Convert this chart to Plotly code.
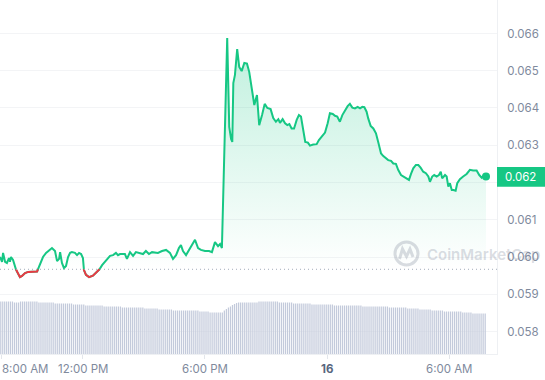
import plotly.graph_objects as go

# ---------------- data ----------------
# hours after 8:00 AM (day 15)
hours = [
    -0.06, 0.04, 0.09, 0.19, 0.28, 0.38, 0.43, 0.48, 0.58, 0.68,
    0.78, 0.92, 1.02, 1.17, 1.32, 1.51, 1.66, 1.76, 1.90, 2.05,
    2.20, 2.39, 2.49, 2.64, 2.74, 2.84, 2.89, 2.98, 3.08, 3.18,
    3.28, 3.38, 3.47, 3.62, 3.72, 3.82, 3.92, 4.01, 4.06, 4.16,
    4.31, 4.50, 4.65, 4.80, 4.95, 5.19, 5.34, 5.49, 5.63, 5.73,
    5.83, 6.07, 6.17, 6.32, 6.47, 6.61, 6.81, 6.96, 7.10, 7.25,
    7.40, 7.55, 7.69, 7.89, 8.09, 8.28, 8.43, 8.58, 8.72, 8.82,
    8.92, 9.07, 9.21, 9.36, 9.51, 9.66, 9.80, 10.00, 10.20, 10.34,
    10.49, 10.64, 10.74, 10.83, 10.93, 11.09, 11.19, 11.28, 11.34, 11.39,
    11.47, 11.58, 11.68, 11.80, 11.93, 12.06, 12.17, 12.32, 12.42, 12.55,
    12.66, 12.80, 12.93, 13.06, 13.22, 13.35, 13.48, 13.60, 13.68, 13.81,
    13.93, 14.04, 14.14, 14.25, 14.37, 14.50, 14.61, 14.71, 14.82, 14.92,
    15.05, 15.15, 15.31, 15.48, 15.59, 15.73, 15.89, 16.02, 16.13, 16.27,
    16.38, 16.49, 16.62, 16.74, 16.87, 17.00, 17.11, 17.23, 17.36, 17.49,
    17.61, 17.72, 17.82, 17.93, 18.01, 18.13, 18.26, 18.39, 18.50, 18.64,
    18.75, 18.88, 18.99, 19.13, 19.24, 19.37, 19.48, 19.62, 19.76, 19.90,
    20.01, 20.11, 20.22, 20.35, 20.47, 20.58, 20.71, 20.84, 20.96, 21.04,
    21.15, 21.25, 21.37, 21.48, 21.57, 21.64, 21.78, 21.86, 21.94, 22.02,
    22.11, 22.19, 22.30, 22.38, 22.51, 22.67, 22.84, 23.00, 23.16, 23.33,
    23.46, 23.58, 23.69, 23.79,
]
prices = [
    0.06000, 0.05987, 0.06011, 0.05987, 0.05984, 0.05997, 0.05987, 0.06000, 0.05992, 0.05972,
    0.05960, 0.05946, 0.05949, 0.05957, 0.05960, 0.05961, 0.05960, 0.05961, 0.05981, 0.06000,
    0.06011, 0.06019, 0.06024, 0.06016, 0.05989, 0.05995, 0.06013, 0.05984, 0.05970, 0.05976,
    0.06000, 0.06011, 0.06013, 0.06011, 0.06005, 0.06011, 0.06008, 0.05997, 0.05965, 0.05952,
    0.05946, 0.05950, 0.05957, 0.05965, 0.05978, 0.05995, 0.06003, 0.06005, 0.06011, 0.06005,
    0.06008, 0.06008, 0.05995, 0.06013, 0.06003, 0.06013, 0.06011, 0.06008, 0.06016, 0.06008,
    0.06013, 0.06013, 0.06011, 0.06016, 0.06019, 0.06011, 0.05995, 0.06005, 0.06024, 0.06032,
    0.06016, 0.06005, 0.06019, 0.06035, 0.06046, 0.06024, 0.06019, 0.06016, 0.06016, 0.06013,
    0.06040, 0.06029, 0.06035, 0.06024, 0.06260, 0.06588, 0.06349, 0.06317, 0.06309, 0.06467,
    0.06489, 0.06558, 0.06510, 0.06499, 0.06521, 0.06519, 0.06497, 0.06448, 0.06408, 0.06435,
    0.06354, 0.06381, 0.06411, 0.06400, 0.06397, 0.06373, 0.06363, 0.06370, 0.06360, 0.06370,
    0.06359, 0.06354, 0.06357, 0.06345, 0.06345, 0.06368, 0.06381, 0.06377, 0.06341, 0.06309,
    0.06307, 0.06299, 0.06302, 0.06303, 0.06314, 0.06323, 0.06334, 0.06359, 0.06386, 0.06384,
    0.06379, 0.06377, 0.06363, 0.06381, 0.06395, 0.06405, 0.06411, 0.06401, 0.06399, 0.06403,
    0.06399, 0.06403, 0.06402, 0.06390, 0.06372, 0.06352, 0.06345, 0.06332, 0.06309, 0.06278,
    0.06271, 0.06265, 0.06260, 0.06258, 0.06251, 0.06250, 0.06234, 0.06220, 0.06216, 0.06211,
    0.06207, 0.06223, 0.06238, 0.06247, 0.06247, 0.06240, 0.06229, 0.06225, 0.06216, 0.06202,
    0.06216, 0.06220, 0.06216, 0.06220, 0.06229, 0.06211, 0.06220, 0.06216, 0.06189, 0.06198,
    0.06180, 0.06180, 0.06178, 0.06198, 0.06209, 0.06216, 0.06223, 0.06234, 0.06232, 0.06232,
    0.06220, 0.06213, 0.06220, 0.06216,
]
baseline_price = 0.05967

# volume bars (regular intervals)
vol_start_hour = -0.05
vol_step_hour = 0.1
volumes = [
    52.5, 52.5, 52.5, 52.5, 52.5, 52.5, 52.5, 51.5, 51.5, 51.5,
    52.5, 52.5, 52.5, 52.5, 52.5, 52.5, 52.5, 52.5, 52.5, 51.5,
    51.5, 51.5, 51.5, 51.5, 51.5, 51.5, 51.5, 50.5, 50.5, 50.5,
    50.5, 50.5, 50.5, 50.5, 50.5, 50.5, 49.5, 49.5, 49.5, 49.5,
    49.5, 49.5, 48.5, 48.5, 48.5, 48.5, 48.5, 48.5, 48.5, 48.5,
    48.5, 47.5, 47.5, 47.5, 47.5, 47.5, 47.5, 47.5, 47.5, 47.5,
    46.5, 46.5, 46.5, 46.5, 46.5, 46.5, 46.5, 46.5, 46.5, 46.5,
    46.5, 45.5, 45.5, 45.5, 45.5, 45.5, 45.5, 45.5, 44.5, 44.5,
    44.5, 44.5, 44.5, 44.5, 44.5, 43.5, 43.5, 43.5, 43.5, 43.5,
    43.5, 43.5, 43.5, 43.5, 43.5, 43.5, 43.5, 43.5, 42.5, 42.5,
    42.5, 42.5, 42.5, 41.5, 41.5, 41.5, 41.5, 41.5, 41.5, 41.5,
    43.5, 45.0, 46.5, 47.5, 49.0, 50.0, 51.0, 51.5, 51.5, 51.5,
    51.5, 51.5, 51.5, 51.5, 51.5, 51.5, 51.5, 52.5, 52.5, 52.5,
    52.5, 52.5, 52.5, 52.5, 52.5, 52.5, 52.5, 51.5, 51.5, 51.5,
    51.5, 51.5, 51.5, 51.5, 50.5, 50.5, 50.5, 50.5, 50.5, 50.5,
    50.5, 50.5, 50.5, 49.5, 49.5, 49.5, 49.5, 49.5, 49.5, 49.5,
    49.5, 49.5, 49.5, 49.5, 48.5, 48.5, 48.5, 48.5, 48.5, 48.5,
    48.5, 48.5, 48.5, 48.5, 48.5, 48.5, 48.5, 48.5, 47.5, 47.5,
    47.5, 47.5, 47.5, 47.5, 47.5, 47.5, 47.5, 47.5, 47.5, 47.5,
    47.5, 46.5, 46.5, 46.5, 46.5, 46.5, 46.5, 46.5, 46.5, 46.5,
    45.5, 45.5, 45.5, 45.5, 45.5, 45.5, 44.5, 44.5, 44.5, 44.5,
    44.5, 44.5, 43.5, 43.5, 43.5, 43.5, 43.5, 43.5, 42.5, 42.5,
    42.5, 42.5, 42.5, 42.5, 42.5, 42.5, 42.5, 41.5, 41.5, 41.5,
    41.5, 41.5, 40.5, 40.5, 40.5, 40.5, 40.5, 40.5, 40.5,
]

price_ticks = [0.058, 0.059, 0.060, 0.061, 0.062, 0.063, 0.064, 0.065, 0.066]
time_tick_hours = [0, 4, 10, 16, 22]
time_tick_labels = ["8:00 AM", "12:00 PM", "6:00 PM", "16", "6:00 AM"]
last_price_label = "0.062"

# ---------------- style ----------------
GREEN = "#16c784"
RED = "#ea3943"
AXIS_TEXT = "#808a9d"
W, H = 545, 380
ML, MR, MT, MB = 0, 48, 0, 26
PW, PH = W - ML - MR, H - MT - MB

def px2paper(x, y):
    return (x - ML) / PW, 1 - (y - MT) / PH

# insert baseline crossings so the below-baseline part can be coloured red
line_x, line_y = [hours[0]], [prices[0]]
for i in range(1, len(hours)):
    y0, y1 = prices[i - 1], prices[i]
    if (y0 - baseline_price) * (y1 - baseline_price) < 0:
        t = (baseline_price - y0) / (y1 - y0)
        line_x.append(hours[i - 1] + t * (hours[i] - hours[i - 1]))
        line_y.append(baseline_price)
    line_x.append(hours[i])
    line_y.append(prices[i])
red_y = [y if y <= baseline_price + 1e-12 else None for y in line_y]

# thin volume bars drawn as vertical stems
vol_x = [vol_start_hour + i * vol_step_hour for i in range(len(volumes))]
stem_x, stem_y = [], []
for xv, v in zip(vol_x, volumes):
    stem_x += [xv, xv, None]
    stem_y += [0, v, None]

price_ticktext = ["" if f"{v:.3f}" == last_price_label else f"{v:.3f}" for v in price_ticks]

fig = go.Figure()
fig.add_trace(go.Scatter(x=stem_x, y=stem_y, mode="lines", yaxis="y",
                         line=dict(color="#c3cadb", width=1.25), connectgaps=False))
fig.add_trace(go.Scatter(x=[hours[0], hours[-1]], y=[baseline_price, baseline_price],
                         mode="lines", line=dict(width=0), yaxis="y2", hoverinfo="skip"))
fig.add_trace(go.Scatter(
    x=line_x, y=line_y, mode="lines", yaxis="y2", fill="tonexty",
    line=dict(color=GREEN, width=2),
    fillgradient=dict(type="vertical",
                      colorscale=[[0, "rgba(22,199,132,0.0)"], [1, "rgba(22,199,132,0.28)"]],
                      start=baseline_price, stop=0.0660),
))
fig.add_trace(go.Scatter(x=line_x, y=red_y, mode="lines", yaxis="y2",
                         line=dict(color=RED, width=2), connectgaps=False))
fig.add_trace(go.Scatter(x=[hours[-1]], y=[prices[-1]], mode="markers", yaxis="y2",
                         marker=dict(color=GREEN, size=8)))

shapes = []
# dotted baseline
shapes.append(dict(type="line", xref="paper", yref="y2", x0=0, x1=1,
                   y0=baseline_price, y1=baseline_price,
                   line=dict(color="#a3acbb", width=1, dash="1px,3px")))
# last price box
x_box0 = 1.0
x_box1 = (W - ML) / PW
shapes.append(dict(type="rect", xref="paper", yref="y2", x0=x_box0, x1=x_box1,
                   y0=prices[-1] - 0.000275, y1=prices[-1] + 0.000255,
                   fillcolor=GREEN, line=dict(width=0), layer="above"))
# watermark logo
cx0, cy0 = px2paper(395, 265)
cx1, cy1 = px2paper(418, 242)
shapes.append(dict(type="circle", xref="paper", yref="paper", x0=cx0, y0=cy0, x1=cx1, y1=cy1,
                   line=dict(color="rgba(128,138,157,0.30)", width=3), layer="above"))
pts = [(399.5, 259), (402.5, 249), (406.5, 256.5), (410, 249), (413, 257)]
path = ""
for k, (a, b) in enumerate(pts):
    pa, pb = px2paper(a, b)
    path += ("M" if k == 0 else "L") + f"{pa:.5f},{pb:.5f} "
shapes.append(dict(type="path", xref="paper", yref="paper", path=path,
                   line=dict(color="rgba(128,138,157,0.30)", width=3), layer="above"))

annotations = []
for hv, lab in zip(time_tick_hours, time_tick_labels):
    first = hv == time_tick_hours[0]
    bold = lab == "16"
    annotations.append(dict(
        x=-0.06 if first else hv, xref="x", y=0, yref="paper", yshift=-15,
        xanchor="left" if first else "center", yanchor="middle",
        text=lab, showarrow=False,
        font=dict(family="Inter", size=11.5, color="#58667e" if bold else AXIS_TEXT,
                  weight=700 if bold else 400),
    ))
annotations.append(dict(x=(x_box0 + x_box1) / 2, xref="paper", y=prices[-1] - 0.00001, yref="y2",
                        text=last_price_label, showarrow=False, xanchor="center", yanchor="middle",
                        font=dict(family="Inter", size=11.5, color="white")))
wx, wy = px2paper(425, 254)
annotations.append(dict(x=wx, y=wy, xref="paper", yref="paper", xanchor="left", yanchor="middle",
                        text="CoinMarketCap", showarrow=False,
                        font=dict(family="Inter", size=15, color="rgba(128,138,157,0.30)", weight=600)))

fig.update_layout(
    width=W, height=H, margin=dict(l=ML, r=MR, t=MT, b=MB),
    paper_bgcolor="white", plot_bgcolor="white", showlegend=False, hovermode=False,
    font=dict(family="Inter", size=12, color=AXIS_TEXT),
    xaxis=dict(range=[-0.06, 24.33], showgrid=False, zeroline=False,
               tickvals=time_tick_hours, showticklabels=False,
               ticks="outside", ticklen=4, tickcolor="#e3e6eb",
               showline=True, linecolor="#eef0f3", linewidth=1),
    yaxis=dict(range=[0, PH], visible=False, fixedrange=True),
    yaxis2=dict(overlaying="y", side="right", range=[0.057396, 0.066899],
                tickvals=price_ticks, ticktext=price_ticktext, showgrid=True,
                gridcolor="#f3f4f6", zeroline=False, showline=True,
                linecolor="#eef0f3", linewidth=1, ticks="", ticklabelstandoff=7,
                tickfont=dict(family="Inter", size=11.5, color=AXIS_TEXT)),
    shapes=shapes, annotations=annotations,
)

fig.write_html("out.html")
